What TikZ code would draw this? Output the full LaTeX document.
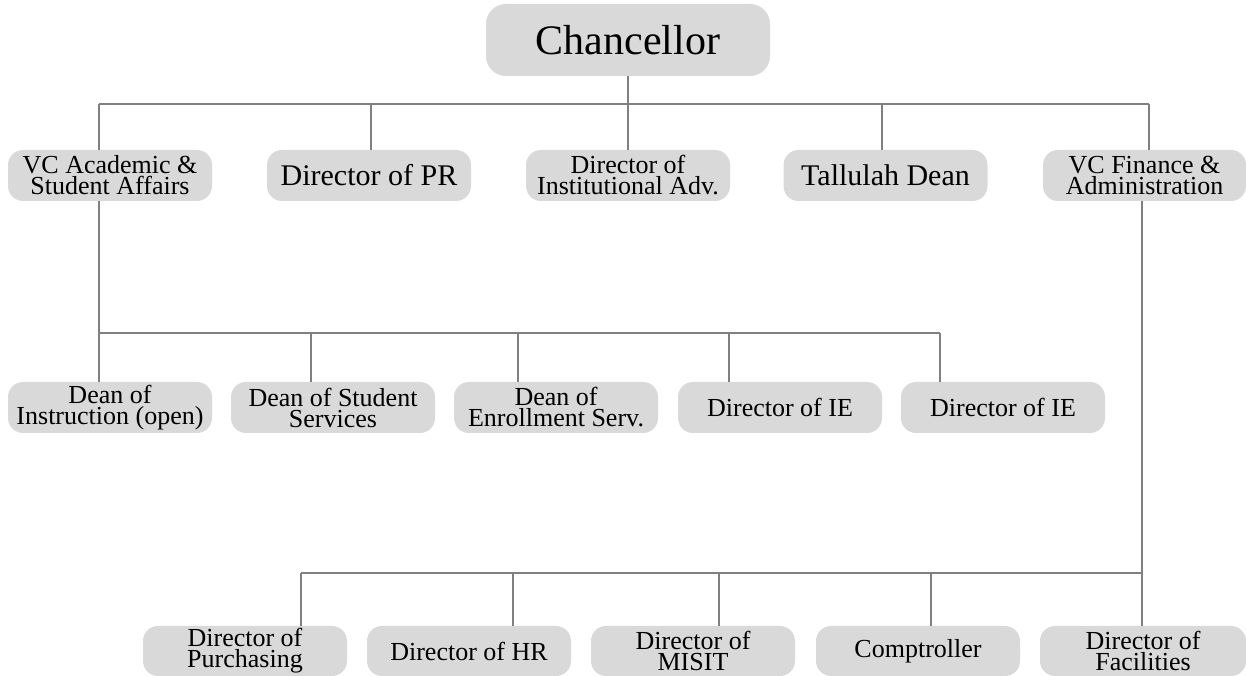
\documentclass[tikz,border=0pt]{standalone}
\usepackage{fontspec}
\setmainfont{Liberation Serif}
\definecolor{boxfill}{HTML}{D9D9D9}
\definecolor{linegray}{HTML}{808080}
\tikzset{
  box/.style={fill=boxfill, rounded corners=15pt, minimum width=204pt, minimum height=51pt, inner sep=0pt, align=center, text=black},
  bigbox/.style={box, font=\fontsize{30}{26}\selectfont},
  smallbox/.style={box, font=\fontsize{26}{21}\selectfont},
  conn/.style={draw=linegray, line width=2.2pt},
}
\begin{document}
\begin{tikzpicture}[x=1pt,y=1pt]
\useasboundingbox (0,0) rectangle (1246,676);
% top
\node[box, minimum width=284pt, minimum height=72pt, rounded corners=20pt, font=\fontsize{42}{42}\selectfont] (ch) at (628,636) {Chancellor};
% row 1
\node[smallbox] (vca) at (110,500.5) {VC Academic \&\\Student Affairs};
\node[bigbox] (pr) at (369,500.5) {Director of PR};
\node[smallbox] (ia) at (628,500.5) {Director of\\Institutional Adv.};
\node[bigbox] (td) at (885.5,500.5) {Tallulah Dean};
\node[smallbox, minimum width=203pt] (vcf) at (1144.5,500.5) {VC Finance \&\\Administration};
% row 2
\node[smallbox] (di) at (110,268.5) {Dean of\\Instruction (open)};
\node[smallbox] (dss) at (333,268.5) {Dean of Student\\Services};
\node[smallbox] (des) at (556,268.5) {Dean of\\Enrollment Serv.};
\node[smallbox] (ie1) at (780,268.5) {Director of IE};
\node[smallbox] (ie2) at (1003,268.5) {Director of IE};
% row 3
\node[smallbox, minimum height=50pt] (pur) at (245,25) {Director of\\Purchasing};
\node[smallbox, minimum height=50pt] (hr) at (469,25) {Director of HR};
\node[smallbox, minimum height=50pt] (mis) at (693,25) {Director of\\MISIT};
\node[smallbox, minimum height=50pt] (comp) at (918,25) {Comptroller};
\node[smallbox, minimum height=50pt, minimum width=206pt] (fac) at (1143,25) {Director of\\Facilities};
% bus 1
\coordinate (b1a) at (99,572);
\coordinate (b1b) at (371,572);
\coordinate (b1c) at (628,572);
\coordinate (b1d) at (882,572);
\coordinate (b1e) at (1149,572);
\draw[conn] (ch.south) -- (b1c);
\draw[conn] (b1a) -- (b1e);
\draw[conn] (b1a) -- (b1a |- vca.north);
\draw[conn] (b1b) -- (b1b |- pr.north);
\draw[conn] (b1c) -- (b1c |- ia.north);
\draw[conn] (b1d) -- (b1d |- td.north);
\draw[conn] (b1e) -- (b1e |- vcf.north);
% bus 2
\coordinate (b2a) at (99,343);
\coordinate (b2b) at (311,343);
\coordinate (b2c) at (518,343);
\coordinate (b2d) at (729,343);
\coordinate (b2e) at (940,343);
\draw[conn] (b2a |- vca.south) -- (b2a);
\draw[conn] (b2a) -- (b2e);
\draw[conn] (b2a) -- (b2a |- di.north);
\draw[conn] (b2b) -- (b2b |- dss.north);
\draw[conn] (b2c) -- (b2c |- des.north);
\draw[conn] (b2d) -- (b2d |- ie1.north);
\draw[conn] (b2e) -- (b2e |- ie2.north);
% bus 3
\coordinate (b3a) at (301,103);
\coordinate (b3b) at (513,103);
\coordinate (b3c) at (719,103);
\coordinate (b3d) at (931,103);
\coordinate (b3e) at (1142,103);
\draw[conn] (b3e |- vcf.south) -- (b3e |- fac.north);
\draw[conn] (b3a) -- (b3e);
\draw[conn] (b3a) -- (b3a |- pur.north);
\draw[conn] (b3b) -- (b3b |- hr.north);
\draw[conn] (b3c) -- (b3c |- mis.north);
\draw[conn] (b3d) -- (b3d |- comp.north);
\end{tikzpicture}
\end{document}
